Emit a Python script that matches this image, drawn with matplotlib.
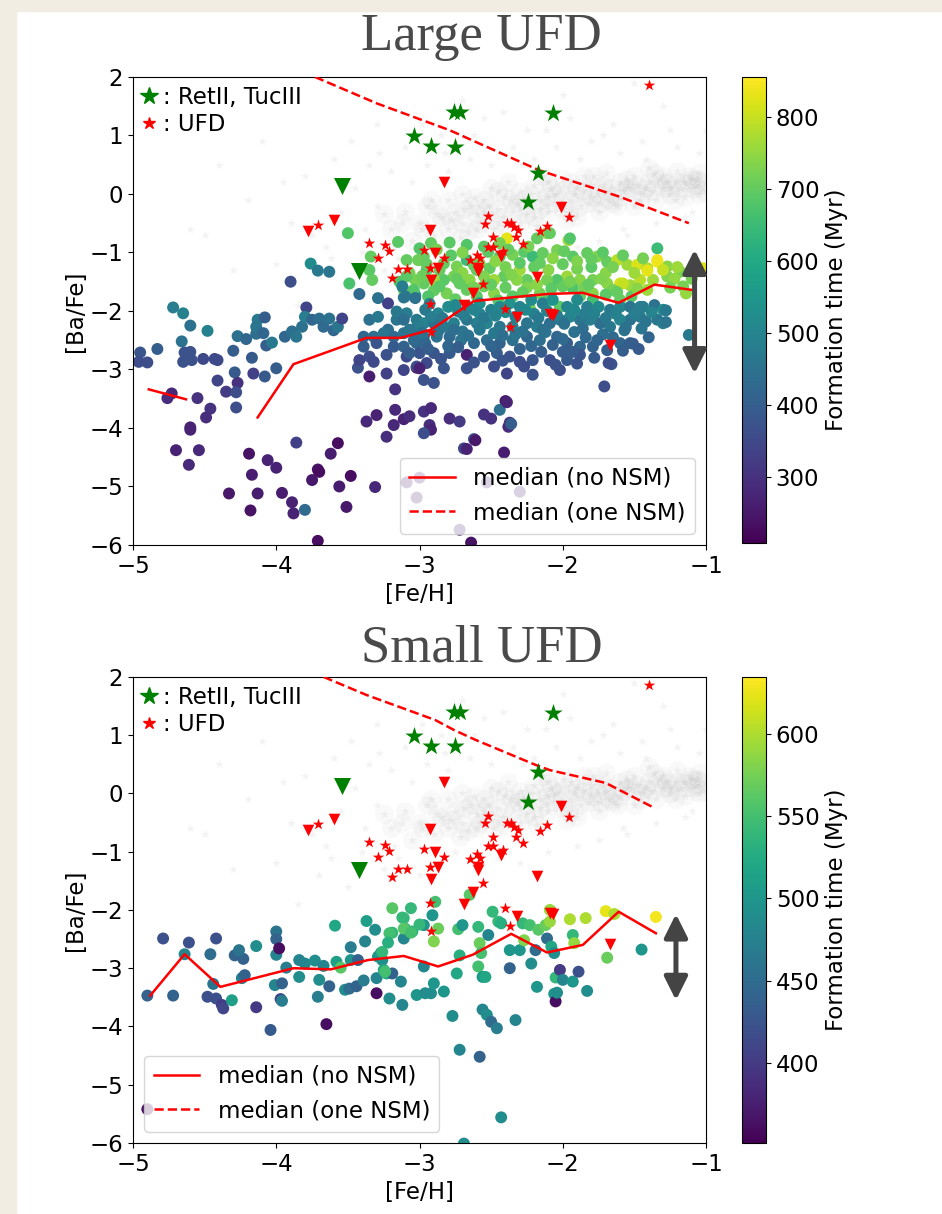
import numpy as np
import matplotlib
matplotlib.use("Agg")
import matplotlib.pyplot as plt
from matplotlib.lines import Line2D
from matplotlib.patches import Rectangle

FS = 16.5

# Milky Way halo stars (gray cloud), same in both panels
mw_dense = [(-3.2,-0.6),(-3.1,-0.3),(-3.05,-0.8),(-3.0,-0.5),(-2.95,-0.2),(-2.9,-0.7),(-2.85,-0.4),(-2.8,-0.1),
            (-2.8,-0.6),(-2.75,-0.3),(-2.7,-0.5),(-2.7,0.0),(-2.65,-0.2),(-2.6,-0.6),(-2.6,-0.35),(-2.55,-0.1),
            (-2.5,-0.45),(-2.5,0.1),(-2.45,-0.25),(-2.4,-0.55),(-2.4,-0.05),(-2.35,-0.3),(-2.3,0.05),(-2.3,-0.5),
            (-2.25,-0.2),(-2.2,0.15),(-2.2,-0.4),(-2.15,-0.1),(-2.1,0.2),(-2.1,-0.3),(-2.05,0.0),(-2.0,-0.25),
            (-2.0,0.25),(-1.95,-0.1),(-1.9,0.1),(-1.9,-0.4),(-1.85,0.3),(-1.8,-0.05),(-1.8,0.15),(-1.75,-0.3),
            (-1.7,0.05),(-1.7,0.35),(-1.65,-0.15),(-1.6,0.2),(-1.6,-0.05),(-1.55,0.1),(-1.5,0.3),(-1.5,-0.2),
            (-1.45,0.0),(-1.4,0.2),(-1.4,0.45),(-1.35,-0.1),(-1.3,0.1),(-1.3,0.3),(-1.25,0.0),(-1.2,0.2),
            (-1.2,0.4),(-1.15,-0.05),(-1.1,0.25),(-1.1,0.1),(-1.05,0.35),(-1.05,0.0),(-1.0,0.2),
            (-2.88,-0.35),(-2.72,-0.75),(-2.62,-0.05),(-2.48,-0.6),(-2.38,0.2),(-2.28,-0.1),(-2.18,-0.55),
            (-2.08,0.1),(-1.98,-0.45),(-1.88,-0.2),(-1.78,0.3),(-1.68,-0.1),(-1.58,0.05),(-1.48,0.15),
            (-1.38,0.05),(-1.28,0.2),(-1.18,0.1),(-1.08,0.15),(-2.55,-0.3),(-2.32,-0.15),(-2.12,-0.05),
            (-1.92,0.0),(-1.72,0.15),(-1.52,0.1),(-1.32,0.25),(-1.12,0.3),
            (-2.78,-0.45),(-2.68,-0.25),(-2.58,-0.5),(-2.52,-0.2),(-2.42,-0.4),(-2.36,-0.1),(-2.26,-0.35),
            (-2.22,0.0),(-2.16,-0.25),(-2.06,-0.15),(-2.02,0.05),(-1.96,-0.3),(-1.86,0.05),(-1.82,-0.15),
            (-1.76,0.0),(-1.66,0.1),(-1.62,-0.2),(-1.56,0.25),(-1.46,-0.1),(-1.42,0.1),(-1.36,0.35),
            (-1.26,0.1),(-1.22,-0.1),(-1.16,0.2),(-1.06,0.25),(-1.02,0.05),(-2.98,-0.6),(-2.92,-0.1),
            (-3.12,-0.5),(-3.25,-0.35),(-2.66,-0.65),(-2.45,0.05),(-2.14,0.3),(-1.94,0.2),(-1.74,-0.15)]
mw_sparse = [(-4.2,-0.1),(-4.0,-1.2),(-3.9,-0.5),(-3.8,0.3),(-3.7,-1.4),(-3.65,-0.9),(-3.6,0.6),(-3.55,-0.3),
             (-3.5,-1.6),(-3.45,0.1),(-3.4,-1.0),(-3.35,0.5),(-3.3,-0.2),(-3.25,-1.3),(-3.2,0.4),(-3.15,-1.1),
             (-3.1,0.8),(-3.0,-1.4),(-2.95,0.5),(-2.9,-1.2),(-2.85,1.0),(-2.8,0.4),(-2.75,-1.0),(-2.65,0.6),
             (-2.6,-1.3),(-2.55,1.3),(-2.5,0.5),(-2.45,-1.1),(-2.35,0.8),(-2.3,-1.2),(-2.25,1.1),(-2.2,0.6),
             (-2.1,-1.0),(-2.05,0.8),(-1.95,1.3),(-1.9,-0.9),(-1.8,0.9),(-1.75,-0.8),(-1.65,1.2),(-1.6,0.7),
             (-1.55,-0.7),(-1.45,0.9),(-1.35,-0.5),(-1.3,1.5),(-1.2,0.8),(-1.15,-0.4),(-1.05,0.7),(-1.0,1.1),
             (-4.4,0.5),(-3.85,-1.9),(-2.7,1.6),(-2.0,1.7),(-1.5,1.9),(-3.3,1.2),(-4.6,-0.6),(-4.1,0.9),
             (-4.5,-0.7),(-4.3,-1.3),(-3.95,0.2),(-3.75,-0.7),(-3.62,-1.1),(-3.48,0.9),(-3.38,-0.6),
             (-3.28,0.7),(-3.18,-0.9),(-3.05,0.2),(-2.98,1.2),(-2.82,0.7),(-2.62,1.0),(-2.42,1.4),
             (-2.28,0.5),(-2.12,1.1),(-1.88,0.6),(-1.72,1.0),(-1.58,-0.6),(-1.42,0.6),(-1.25,1.1),(-1.1,-0.3)]

# observed UFD stars
ufd_star = [(-3.71,-0.53),(-3.35,-0.84),(-3.24,-0.88),(-3.21,-0.98),(-3.29,-1.09),(-3.15,-1.29),(-3.085,-1.29),
            (-3.19,-1.44),(-2.97,-0.96),(-2.52,-0.38),(-2.54,-0.51),(-2.39,-0.50),(-2.36,-0.50),(-2.34,-0.57),
            (-2.31,-0.62),(-2.33,-0.74),(-2.28,-0.85),(-2.11,-0.54),(-2.16,-0.64),(-1.96,-0.40),(-2.49,-0.74),
            (-2.52,-0.90),(-2.49,-0.90),(-2.42,-0.97),(-2.83,-1.09),(-2.93,-1.26),(-2.65,-1.13),(-2.60,-1.04),
            (-2.58,-1.10),(-2.56,-1.54),(-2.93,-1.88),(-2.40,-1.97),(-2.37,-2.27),(-2.92,-2.36),(-1.40,1.86)]
ufd_lim = [(-3.78,-0.63),(-3.60,-0.44),(-2.83,0.20),(-2.01,-0.22),(-2.93,-0.61),(-2.89,-1.01),(-2.87,-1.27),
           (-2.92,-1.47),(-2.59,-1.27),(-2.59,-1.31),(-2.43,-1.06),(-2.18,-1.42),(-2.63,-1.69),(-2.69,-1.89),
           (-2.32,-2.10),(-2.09,-2.05),(-2.07,-2.07),(-1.67,-2.58)]
rt_star = [(-2.76,1.40),(-2.72,1.40),(-2.07,1.38),(-3.04,0.99),(-2.92,0.82),(-2.75,0.81),(-2.17,0.36),(-2.24,-0.14)]
rt_lim = [(-3.54,0.13),(-3.42,-1.32)]

# simulated stars, large UFD: (feh, bafe, formation time)
large_left = [(-4.72,-1.94,480),(-4.65,-2.04,490),(-4.60,-2.25,450),(-4.48,-2.34,490),(-4.66,-2.52,450),
              (-4.83,-2.65,400),(-4.95,-2.71,380),(-4.96,-2.87,360),(-4.90,-2.88,360),(-4.64,-2.71,370),
              (-4.60,-2.70,370),(-4.65,-2.87,370),(-4.59,-2.84,370),(-4.51,-2.82,350),(-4.43,-2.82,350),
              (-4.41,-2.84,350),(-4.30,-2.68,400),(-4.27,-2.43,450),(-4.21,-2.48,420),(-4.14,-2.39,440),
              (-4.13,-2.15,470),(-4.08,-2.11,400),(-4.14,-2.27,460),(-4.09,-2.38,420),(-4.07,-2.59,400),
              (-4.03,-2.54,470),(-4.17,-2.80,390),(-4.00,-2.98,400),(-3.94,-2.44,420),(-3.90,-1.50,360),
              (-3.79,-1.94,340),(-3.76,-1.19,520),(-3.71,-1.31,470),(-3.63,-1.33,460),(-3.89,-2.35,440),
              (-3.86,-2.44,460),(-3.82,-2.27,450),(-3.80,-2.10,480),(-3.75,-2.15,420),(-3.70,-2.13,440),
              (-3.67,-2.27,430),(-3.63,-2.13,450),(-3.60,-2.33,420),(-3.57,-2.27,460),(-3.54,-2.13,340),
              (-3.42,-1.71,430)]
large_low = [(-4.29,-3.05,390),(-4.16,-3.07,330),(-4.08,-3.12,390),(-4.27,-3.23,300),(-4.41,-3.19,340),
             (-4.35,-3.38,320),(-4.28,-3.39,360),(-4.28,-3.65,360),(-4.46,-3.67,300),(-4.49,-3.82,290),
             (-4.55,-3.49,300),(-4.73,-3.41,280),(-4.76,-3.49,290),(-4.60,-3.99,270),(-4.60,-4.03,270),
             (-4.70,-4.38,270),(-4.54,-4.38,280),(-4.61,-4.63,280),(-4.19,-4.44,240),(-4.17,-4.80,260),
             (-4.18,-5.41,240),(-4.33,-5.12,250),(-4.13,-5.12,260),(-4.06,-4.55,270),(-4.00,-4.68,270),
             (-3.96,-5.11,260),(-3.89,-5.27,270),(-3.88,-5.46,270),(-3.86,-4.25,330),(-3.80,-5.40,430),
             (-3.71,-4.71,240),(-3.70,-4.75,230),(-3.75,-4.89,250),(-3.71,-5.93,230),(-3.62,-4.44,260),
             (-3.57,-4.26,230),(-3.56,-5.00,260),(-3.51,-5.35,250),(-3.48,-4.82,230),(-3.43,-2.97,370),
             (-3.35,-3.12,260),(-3.30,-3.78,270),(-3.37,-3.89,280),(-3.23,-4.15,290),(-3.18,-3.95,280),
             (-3.17,-3.69,280),(-3.17,-3.34,300),(-3.11,-3.85,270),(-3.07,-3.80,290),(-2.97,-3.72,300),
             (-2.92,-3.66,280),(-2.93,-3.95,290),(-2.92,-4.03,270),(-2.97,-4.09,360),(-3.02,-2.97,240),
             (-2.97,-3.18,370),(-2.90,-3.23,370),(-2.79,-3.84,290),(-2.72,-3.89,320),(-2.62,-4.19,370),
             (-2.55,-3.77,300),(-2.50,-3.84,300),(-2.40,-3.54,250),(-2.37,-3.91,290),(-2.38,-3.98,290),
             (-2.44,-3.69,440),(-2.69,-4.35,340),(-2.64,-5.96,240),(-2.72,-5.74,270),(-3.31,-5.01,280),
             (-3.09,-4.93,260),(-3.00,-4.85,270),(-3.02,-5.19,250),(-2.67,-4.36,270),(-2.61,-4.21,250),
             (-2.53,-4.93,280),(-2.41,-4.42,260),(-2.30,-5.09,270),(-1.71,-3.29,360),(-1.66,-2.91,380),
             (-2.39,-3.56,270),(-2.36,-3.93,400)]
large_mid = [(-3.35,-2.15,450),(-3.29,-2.10,470),(-3.22,-2.32,440),(-3.16,-2.15,460),(-3.09,-2.04,480),
             (-3.02,-2.15,470),(-2.97,-2.21,500),(-3.39,-2.44,420),(-3.32,-2.44,440),(-3.25,-2.38,460),
             (-3.18,-2.44,430),(-3.11,-2.38,450),(-3.04,-2.32,470),(-2.97,-2.44,440),(-3.39,-2.61,400),
             (-3.30,-2.55,380),(-3.18,-2.61,390),(-3.11,-2.61,410),(-3.02,-2.55,420),(-3.35,-2.78,360),
             (-3.23,-2.75,370),(-3.09,-2.78,350),(-3.00,-2.72,380),(-2.95,-2.89,350),(-3.11,-3.01,340),
             (-3.02,-2.95,360),(-3.23,-3.07,330),(-3.32,-2.87,350),(-3.42,-2.84,340),(-3.29,-1.78,450),
             (-3.22,-1.87,330),(-3.16,-2.01,470),(-3.03,-1.73,520),(-3.11,-1.77,460),(-3.50,-0.67,680),
             (-3.35,-1.30,690),(-3.33,-1.47,700),(-3.49,-1.53,670),(-3.15,-0.82,690),(-3.34,-1.07,700),
             (-3.14,-1.50,680),(-3.07,-1.35,720),(-3.00,-1.13,750),(-2.97,-1.07,700)]
large_upper = [(-2.39,-0.76,830),(-1.96,-0.79,760),(-2.11,-0.67,740),(-2.18,-0.76,700),(-2.44,-0.84,720),
               (-2.52,-0.99,690),(-2.67,-0.87,680),(-2.79,-0.83,690),(-2.92,-0.84,700),(-3.00,-0.93,680),
               (-3.09,-1.13,700),(-3.01,-1.13,710),(-2.83,-1.19,700),(-2.74,-1.24,720),(-2.67,-1.13,650),
               (-2.58,-1.19,730),(-2.51,-1.27,700),(-2.44,-1.07,680),(-2.35,-1.04,720),(-2.27,-0.99,690),
               (-2.21,-1.07,650),(-2.14,-1.01,700),(-2.04,-0.96,720),(-1.93,-1.07,690),(-1.83,-1.01,700),
               (-1.76,-1.07,730),(-1.69,-1.16,700),(-1.62,-1.13,790),(-1.55,-1.21,760),(-1.48,-1.21,820),
               (-1.41,-1.27,780),(-1.34,-0.93,650),(-1.34,-1.13,840),(-1.27,-1.24,740),(-1.18,-1.33,720),
               (-1.46,-1.47,790),(-1.37,-1.47,760),(-1.27,-1.41,730),(-1.16,-1.58,720),(-1.14,-1.70,750),
               (-1.69,-1.53,740),(-1.60,-1.53,820),(-1.53,-1.56,760),(-1.79,-1.47,720),(-1.88,-1.47,740),
               (-1.97,-1.41,760),(-2.04,-1.47,680),(-2.11,-1.47,720),(-2.25,-1.47,700),(-2.32,-1.47,740),
               (-2.41,-1.41,700),(-2.48,-1.47,760),(-2.55,-1.41,730),(-2.65,-1.47,740),(-2.72,-1.53,700),
               (-2.76,-1.41,720),(-2.83,-1.47,690),(-2.90,-1.47,760),(-2.97,-1.53,700),(-3.03,-1.47,720),
               (-3.09,-1.41,690),(-3.11,-1.64,700),(-3.04,-1.64,680),(-2.81,-1.70,720),(-2.67,-1.64,700),
               (-2.48,-1.70,740),(-2.35,-1.75,690),(-2.16,-1.70,720),(-1.93,-1.61,680),(-1.79,-1.70,740),
               (-1.65,-1.64,720),(-1.60,-1.81,700),(-1.41,-1.64,760),(-1.79,-1.81,660),(-2.02,-1.93,690),
               (-2.23,-1.95,720),(-2.09,-0.67,700),(-1.95,-0.76,680),(-1.02,-1.27,830),(-1.41,-1.31,830),
               (-1.58,-1.53,800),(-1.34,-1.16,840),
               (-2.86,-1.30,700),(-2.70,-1.35,740),(-2.60,-1.30,700),(-2.40,-1.25,720),(-2.30,-1.30,760),
               (-2.20,-1.25,700),(-2.10,-1.30,740),(-2.00,-1.20,700),(-1.90,-1.28,720),(-1.80,-1.25,690),
               (-1.70,-1.35,740),(-2.95,-1.30,680),(-2.55,-1.58,710),(-2.40,-1.60,700),(-2.25,-1.60,730),
               (-2.00,-1.58,700),(-1.85,-1.60,720),(-1.70,-1.72,690),(-2.90,-1.65,700),(-2.60,-1.75,690)]
large_upper_fill = [(-2.95,-1.20,700),(-2.88,-0.95,720),(-2.78,-1.05,690),(-2.70,-1.00,730),(-2.62,-1.22,700),
                    (-2.55,-0.90,690),(-2.47,-1.15,740),(-2.38,-0.95,700),(-2.30,-1.18,690),(-2.24,-0.90,720),
                    (-2.16,-1.18,700),(-2.07,-1.10,740),(-1.99,-0.98,700),(-1.90,-1.15,730),(-1.80,-1.12,700),
                    (-1.72,-1.00,690),(-1.65,-1.25,720),(-1.58,-1.05,700),(-1.50,-1.35,760),(-1.44,-1.10,720),
                    (-1.30,-1.30,800),(-1.22,-1.45,750),(-1.10,-1.45,720),(-2.98,-1.40,710),(-2.86,-1.58,690),
                    (-2.74,-1.45,700),(-2.62,-1.60,720),(-2.50,-1.55,700),(-2.36,-1.38,730),(-2.28,-1.68,700),
                    (-2.18,-1.55,740),(-2.08,-1.62,690),(-1.95,-1.50,720),(-1.82,-1.55,700),(-1.73,-1.45,730),
                    (-1.62,-1.68,700),(-1.52,-1.75,690),(-1.48,-1.62,740),(-1.25,-1.60,720),(-1.20,-1.25,760),
                    (-2.94,-1.75,680),(-2.75,-1.80,700),(-2.45,-1.82,690),(-2.10,-1.82,680),(-1.88,-1.75,700)]
large_band = [(-3.12,-1.58,480),(-3.10,-1.75,460),(-3.03,-1.78,450),(-2.96,-1.98,470),(-2.87,-2.04,500),
              (-2.80,-1.93,520),(-2.73,-2.01,480),(-2.66,-1.93,500),(-2.58,-1.87,530),(-2.50,-1.98,490),
              (-2.44,-1.93,510),(-2.37,-1.87,540),(-2.30,-1.93,500),(-2.22,-1.81,520),(-2.14,-1.87,480),
              (-2.07,-1.81,540),(-1.97,-1.93,500),(-1.90,-1.81,520),(-1.83,-1.93,480),(-1.75,-1.93,510),
              (-1.67,-1.98,470),(-1.60,-1.93,500),(-1.53,-1.93,460),(-1.46,-1.93,480),(-1.36,-1.90,450),
              (-1.30,-1.98,520),(-1.34,-2.15,460),(-1.30,-2.21,480),(-1.46,-2.10,470),(-1.53,-2.15,450),
              (-1.60,-2.15,500),(-1.67,-2.27,470),(-1.74,-2.21,440),(-1.81,-2.15,480),(-1.88,-2.15,460),
              (-1.95,-2.10,500),(-2.02,-2.15,470),(-2.09,-2.21,440),(-2.18,-2.27,480),(-2.25,-2.21,460),
              (-2.35,-2.27,490),(-2.44,-2.27,470),(-2.53,-2.21,500),(-2.60,-2.21,480),(-2.67,-2.15,460),
              (-2.76,-2.21,490),(-2.83,-2.27,470),(-2.90,-2.21,450),(-3.00,-2.27,480),(-3.07,-2.32,460),
              (-3.11,-2.15,440),(-3.04,-2.50,430),(-2.96,-2.55,420),(-2.88,-2.44,450),(-2.79,-2.44,430),
              (-2.71,-2.50,460),(-2.62,-2.55,420),(-2.53,-2.50,440),(-2.44,-2.55,410),(-2.35,-2.50,450),
              (-2.25,-2.44,420),(-2.16,-2.50,440),(-2.04,-2.44,420),(-1.97,-2.55,400),(-1.88,-2.61,420),
              (-1.79,-2.61,410),(-1.69,-2.67,400),(-1.60,-2.55,420),(-1.53,-2.55,400),(-3.07,-2.72,400),
              (-2.90,-2.72,380),(-2.79,-2.72,390),(-2.67,-2.75,270),(-2.55,-2.78,380),(-2.46,-2.72,400),
              (-2.37,-2.78,370),(-2.30,-2.87,360),(-2.21,-2.84,380),(-2.09,-2.84,360),(-1.97,-2.84,390),
              (-1.88,-2.75,380),(-1.68,-2.89,360),(-1.12,-2.41,470),(-3.00,-2.98,270),(-2.83,-2.98,380),
              (-2.67,-2.98,370),(-2.48,-2.95,360),(-2.39,-3.07,340),(-2.21,-3.09,370),(-2.02,-3.01,360),
              (-1.28,-1.99,470),(-1.28,-2.19,460),(-1.44,-1.93,480),(-1.51,-2.56,400),(-1.57,-2.33,450),
              (-2.92,-2.10,480),(-2.70,-2.35,460),(-2.48,-2.38,470),(-2.28,-2.35,450),(-2.12,-2.36,460),
              (-1.92,-2.36,450),(-1.72,-2.40,440),(-1.45,-2.30,460),(-2.58,-2.05,500),(-2.20,-2.05,490),
              (-1.85,-2.05,480),(-2.80,-2.60,420),(-2.30,-2.65,410),(-2.00,-2.70,400),(-1.40,-2.45,420)]
large_band_fill = [(-2.93,-1.88,490),(-2.84,-2.12,470),(-2.75,-1.90,510),(-2.69,-2.08,480),(-2.62,-1.98,500),
                   (-2.55,-2.12,470),(-2.47,-2.08,490),(-2.40,-2.02,520),(-2.33,-2.10,480),(-2.26,-1.98,510),
                   (-2.17,-2.12,470),(-2.11,-2.00,500),(-2.04,-2.08,480),(-1.99,-2.22,450),(-1.92,-1.98,510),
                   (-1.86,-2.30,440),(-1.78,-2.05,490),(-1.70,-2.12,470),(-1.63,-2.05,490),(-1.56,-2.28,450),
                   (-1.50,-2.05,480),(-1.42,-2.18,460),(-1.38,-2.02,500),(-2.98,-2.38,450),(-2.87,-2.35,460),
                   (-2.76,-2.32,440),(-2.66,-2.42,450),(-2.58,-2.32,470),(-2.50,-2.60,420),(-2.42,-2.42,440),
                   (-2.33,-2.40,460),(-2.22,-2.60,420),(-2.14,-2.32,450),(-2.07,-2.58,410),(-2.00,-2.48,430),
                   (-1.93,-2.70,400),(-1.84,-2.45,430),(-1.76,-2.50,420),(-1.65,-2.45,430),(-1.58,-2.68,400),
                   (-1.47,-2.65,390),(-2.94,-2.65,400),(-2.85,-2.82,380),(-2.73,-2.62,400),(-2.62,-2.88,370),
                   (-2.42,-2.85,380),(-2.27,-2.95,360),(-2.15,-2.70,400),(-2.05,-2.92,370),(-1.90,-2.90,380),
                   (-1.78,-2.80,390)]

# simulated stars, small UFD
small_stars = [(-4.90,-3.47,440),(-4.79,-2.49,420),(-4.72,-3.47,440),(-4.64,-2.76,480),(-4.61,-2.56,420),
               (-4.46,-2.76,450),(-4.48,-3.49,420),(-4.42,-2.49,420),(-4.42,-3.52,420),(-4.44,-3.27,460),
               (-4.38,-3.63,400),(-4.37,-3.69,410),(-4.31,-3.55,510),(-4.29,-2.78,440),(-4.23,-2.84,440),
               (-4.26,-2.69,460),(-4.24,-3.17,470),(-4.22,-3.12,440),(-4.14,-2.62,490),(-4.14,-3.67,400),
               (-4.04,-4.06,430),(-4.00,-2.37,460),(-4.00,-2.50,440),(-4.00,-2.77,480),(-3.98,-2.66,360),
               (-3.97,-3.53,410),(-3.96,-3.56,470),(-4.01,-3.29,480),(-3.96,-3.26,440),(-3.93,-2.99,470),
               (-3.84,-2.86,480),(-3.84,-3.15,490),(-3.80,-2.92,480),(-3.73,-2.87,490),(-3.70,-3.20,490),
               (-3.71,-3.49,470),(-3.67,-2.96,480),(-3.65,-3.96,360),(-3.63,-3.31,440),(-3.59,-2.27,520),
               (-3.58,-2.89,510),(-3.55,-2.99,560),(-3.52,-3.37,490),(-3.49,-3.35,450),(-3.48,-2.64,470),
               (-3.48,-2.86,500),(-3.44,-3.31,440),(-3.43,-2.86,440),(-3.39,-3.21,470),(-3.38,-2.54,480),
               (-3.37,-2.19,510),(-3.31,-2.34,490),(-3.30,-3.43,360),(-3.30,-3.17,480),(-3.27,-2.74,480),
               (-3.26,-2.86,490),(-3.25,-3.03,520),(-3.23,-3.09,520),(-3.21,-3.52,490),(-3.19,-2.39,540),
               (-3.19,-3.09,440),(-3.13,-3.23,480),(-3.12,-3.63,480),(-3.11,-2.14,540),(-3.10,-2.32,540),
               (-3.06,-1.97,540),(-3.05,-2.37,530),(-3.11,-2.49,480),(-3.02,-3.46,500),(-2.97,-2.26,500),
               (-2.97,-2.97,480),(-2.96,-3.43,490),(-2.92,-3.43,490),(-2.91,-2.09,500),(-2.89,-1.86,550),
               (-2.87,-2.32,570),(-2.90,-2.54,580),(-2.90,-3.26,500),(-2.83,-3.40,500),(-2.77,-3.82,490),
               (-2.74,-3.09,520),(-2.73,-2.33,550),(-2.72,-2.78,530),(-2.72,-4.40,480),(-2.70,-2.26,500),
               (-2.65,-1.74,560),(-2.59,-2.29,540),(-2.59,-2.97,550),(-2.58,-2.57,570),(-2.57,-2.74,550),
               (-2.56,-3.15,500),(-2.56,-3.71,480),(-2.54,-3.15,520),(-2.53,-3.80,490),(-2.52,-2.43,480),
               (-2.50,-3.92,450),(-2.49,-2.03,540),(-2.46,-4.03,470),(-2.45,-2.20,540),(-2.43,-5.56,490),
               (-2.43,-2.23,530),(-2.58,-4.52,440),(-2.37,-2.69,500),(-2.37,-3.00,440),(-2.33,-3.89,480),
               (-2.30,-2.69,500),(-2.28,-2.23,540),(-2.27,-2.52,580),(-2.23,-2.26,550),(-2.22,-2.92,490),
               (-2.19,-2.69,450),(-2.18,-3.32,500),(-2.17,-2.34,560),(-2.12,-2.26,570),(-2.11,-2.49,450),
               (-2.09,-2.20,590),(-2.09,-2.00,590),(-2.08,-2.63,520),(-2.06,-2.74,490),(-2.06,-3.44,500),
               (-2.05,-3.16,540),(-2.05,-3.57,360),(-2.04,-3.42,490),(-2.02,-3.03,400),(-2.00,-3.20,480),
               (-1.95,-2.16,600),(-1.93,-2.43,540),(-1.93,-3.23,500),(-1.92,-2.57,590),(-1.89,-3.06,420),
               (-1.84,-2.14,600),(-1.83,-3.39,490),(-1.70,-2.02,625),(-1.69,-2.82,570),(-1.64,-2.07,600),
               (-1.45,-2.68,500),(-1.35,-2.12,630),(-4.90,-5.42,360),(-2.69,-6.01,490),(-3.19,-1.97,560),
               (-3.12,-2.13,540),(-3.11,-2.32,560),(-3.06,-2.39,550),(-3.00,-2.25,540),(-3.21,-2.40,550),
               (-3.22,-2.56,530),(-3.29,-2.80,500),(-3.26,-2.72,540),(-3.24,-3.06,550)]

# median tracks
large_med_feh = [-4.89, -4.63, np.nan, -4.13, -3.88, -3.37, -3.13, -2.92, -2.62, -2.11, -1.86, -1.61, -1.36, -1.10]
large_med_bafe = [-3.34, -3.51, np.nan, -3.82, -2.91, -2.46, -2.46, -2.32, -1.83, -1.71, -1.69, -1.86, -1.55, -1.64]
large_nsm_feh = [-3.73, -3.30, -2.79, -2.17, -1.60, -1.12]
large_nsm_bafe = [2.00, 1.55, 1.09, 0.41, -0.05, -0.50]
small_med_feh = [-4.88, -4.64, -4.39, -3.88, -3.62, -3.36, -3.11, -2.87, -2.63, -2.36, -2.11, -1.86, -1.61, -1.35]
small_med_bafe = [-3.47, -2.76, -3.32, -3.00, -3.02, -2.86, -2.79, -2.97, -2.77, -2.41, -2.73, -2.60, -2.03, -2.40]
small_nsm_feh = [-3.67, -3.37, -2.89, -2.76, -2.61, -2.19, -2.09, -1.70, -1.36]
small_nsm_bafe = [2.00, 1.69, 1.26, 1.09, 0.92, 0.49, 0.40, 0.18, -0.25]

# arrow (feh, top, bottom), colour range and ticks
large_arrow = (-1.08, -0.95, -3.07)
small_arrow = (-1.21, -2.07, -3.55)
large_trange = (208, 856)
small_trange = (351, 635)
large_cticks = [300, 400, 500, 600, 700, 800]
small_cticks = [400, 450, 500, 550, 600]


def panel(ax, cax, sim, trange, cticks, med, nsm, arrow, title_y, title, legloc):
    md = np.array(mw_dense)
    ms = np.array(mw_sparse)
    ax.scatter(md[:, 0], md[:, 1], marker="o", s=190, color="0.4", alpha=0.035, linewidths=0, zorder=1)
    ax.scatter(md[:, 0], md[:, 1], marker="*", s=45, color="0.5", alpha=0.09, linewidths=0, zorder=1)
    ax.scatter(ms[:, 0], ms[:, 1], marker="*", s=45, color="0.5", alpha=0.09, linewidths=0, zorder=1)

    sim = np.array(sim)
    sc = ax.scatter(sim[:, 0], sim[:, 1], c=sim[:, 2], cmap="viridis", vmin=trange[0], vmax=trange[1],
                    s=74, linewidths=0, zorder=2)

    ax.plot(med[0], med[1], "r-", lw=1.8, zorder=4)
    ax.plot(nsm[0], nsm[1], "r--", lw=1.8, zorder=4)

    us = np.array(ufd_star)
    ul = np.array(ufd_lim)
    rs = np.array(rt_star)
    rl = np.array(rt_lim)
    ax.scatter(us[:, 0], us[:, 1], marker="*", s=75, color="r", linewidths=0, zorder=5)
    ax.scatter(ul[:, 0], ul[:, 1], marker="v", s=70, color="r", linewidths=0, zorder=5)
    ax.scatter(rs[:, 0], rs[:, 1], marker="*", s=190, color="g", linewidths=0, zorder=5)
    ax.scatter(rl[:, 0], rl[:, 1], marker="v", s=150, color="g", linewidths=0, zorder=5)

    ax.annotate("", xy=(arrow[0], arrow[1]), xytext=(arrow[0], arrow[2]),
                arrowprops=dict(arrowstyle="<|-|>,head_length=1.0,head_width=0.5", mutation_scale=14,
                                lw=3.6, color="#444444", shrinkA=0, shrinkB=0), zorder=6)

    ax.set_xlim(-5, -1)
    ax.set_ylim(-6, 2)
    ax.set_xticks([-5, -4, -3, -2, -1])
    ax.set_yticks(range(-6, 3))
    ax.tick_params(labelsize=FS)
    ax.set_xlabel("[Fe/H]", fontsize=FS)
    ax.set_ylabel("[Ba/Fe]", fontsize=FS, labelpad=2)

    h1 = Line2D([], [], ls="none", marker="*", ms=13, color="g")
    h2 = Line2D([], [], ls="none", marker="*", ms=9, color="r")
    leg1 = ax.legend([h1, h2], [": RetII, TucIII", ": UFD"], loc="upper left", frameon=False,
                     fontsize=FS, handlelength=0.6, handletextpad=0.3, borderaxespad=0.1,
                     borderpad=0.3, labelspacing=0.15)
    ax.add_artist(leg1)
    l1 = Line2D([], [], color="r", lw=1.8)
    l2 = Line2D([], [], color="r", lw=1.8, ls="--")
    leg2 = ax.legend([l1, l2], ["median (no NSM)", "median (one NSM)"], loc=legloc, fontsize=FS)
    leg2.set_zorder(7)

    cb = fig.colorbar(sc, cax=cax, ticks=cticks)
    cb.ax.tick_params(labelsize=FS)
    cb.set_label("Formation time (Myr)", fontsize=FS)

    fig.text(0.511, title_y, title, ha="center", va="baseline", fontsize=38,
             family="Liberation Serif", color="#4a4a4a")


fig = plt.figure(figsize=(9.42, 12.14), dpi=100)
fig.patches.append(Rectangle((0, 0), 0.017, 1, transform=fig.transFigure, color="#f2ede3", zorder=0))
fig.patches.append(Rectangle((0, 0.991), 1, 0.009, transform=fig.transFigure, color="#f2ede3", zorder=0))

ax1 = fig.add_axes([0.1412, 0.5511, 0.6083, 0.3855])
cax1 = fig.add_axes([0.7877, 0.5527, 0.0255, 0.3839])
ax2 = fig.add_axes([0.1412, 0.0585, 0.6083, 0.3839])
cax2 = fig.add_axes([0.7877, 0.0585, 0.0255, 0.3839])

large_all = large_left + large_low + large_mid + large_upper + large_upper_fill + large_band + large_band_fill
panel(ax1, cax1, large_all, large_trange, large_cticks,
      (large_med_feh, large_med_bafe), (large_nsm_feh, large_nsm_bafe), large_arrow, 0.9588,
      "Large UFD", "lower right")
panel(ax2, cax2, small_stars, small_trange, small_cticks,
      (small_med_feh, small_med_bafe), (small_nsm_feh, small_nsm_bafe), small_arrow, 0.4547,
      "Small UFD", "lower left")

fig.savefig("out.png", dpi=100)
